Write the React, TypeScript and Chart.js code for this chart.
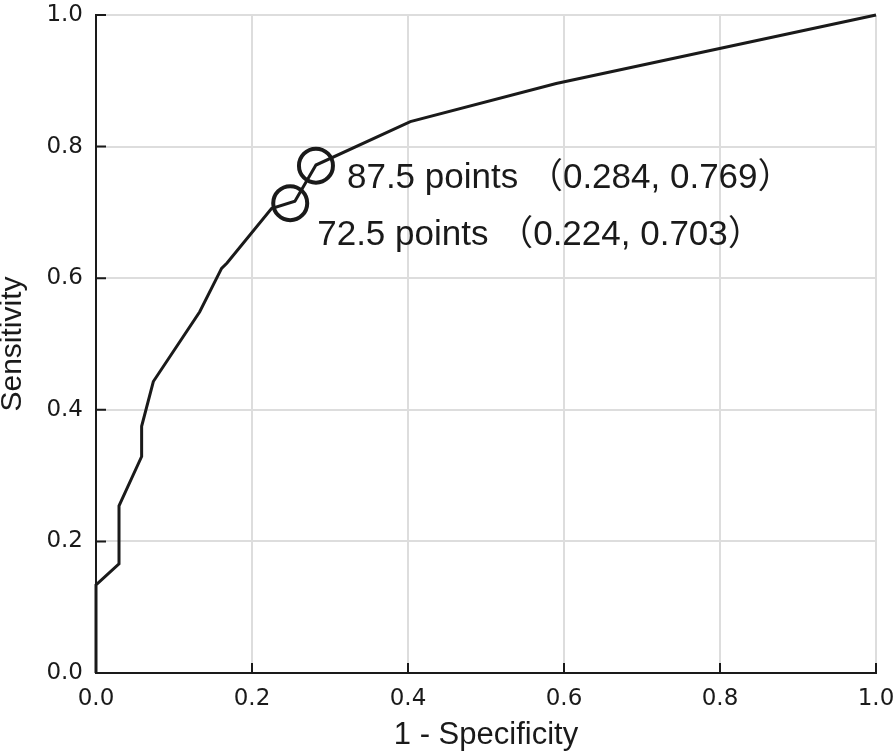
import React, { useEffect, useRef } from 'react';
import { Chart, registerables } from 'chart.js';

Chart.register(...registerables);

// ROC curve (1 - specificity, sensitivity)
const rocX = [0, 0, 0.0295, 0.0295, 0.0585, 0.0585, 0.0735, 0.133, 0.161, 0.168, 0.225, 0.255, 0.282, 0.403, 0.59, 1.0];
const rocY = [0, 0.134, 0.166, 0.254, 0.329, 0.375, 0.443, 0.549, 0.615, 0.623, 0.706, 0.717, 0.772, 0.838, 0.896, 1.0];

// highlighted cut-off points
const markerX = [0.282, 0.249];
const markerY = [0.771, 0.714];
const markerLabels = ['87.5 points （0.284, 0.769）', '72.5 points （0.224, 0.703）'];

const tickValues = [0, 0.2, 0.4, 0.6, 0.8, 1.0];
const xTitle = '1 - Specificity';
const yTitle = 'Sensitivity';

// style constants
const labelOffsets = [
  [31, 22],
  [27, 42],
];
const INK = '#1a1a1a';
const GRID = '#dddddd';

const innerTicksPlugin = {
  id: 'innerTicks',
  afterDatasetsDraw(chart: any) {
    const { ctx, scales } = chart;
    const xs = scales.x;
    const ys = scales.y;
    ctx.save();
    ctx.strokeStyle = INK;
    ctx.lineWidth = 2;
    ctx.beginPath();
    tickValues.forEach((v) => {
      const py = ys.getPixelForValue(v);
      ctx.moveTo(xs.left, py);
      ctx.lineTo(xs.left + 10, py);
      const px = xs.getPixelForValue(v);
      ctx.moveTo(px, ys.bottom);
      ctx.lineTo(px, ys.bottom - 10);
    });
    ctx.stroke();
    ctx.restore();
  },
};

const markerLabelPlugin = {
  id: 'markerLabels',
  afterDatasetsDraw(chart: any) {
    const { ctx, scales } = chart;
    ctx.save();
    ctx.fillStyle = INK;
    ctx.font = '35px "Liberation Sans", Arial, "Noto Sans CJK SC", sans-serif';
    ctx.textAlign = 'left';
    ctx.textBaseline = 'alphabetic';
    markerLabels.forEach((t, i) => {
      const px = scales.x.getPixelForValue(markerX[i]) + labelOffsets[i][0];
      const py = scales.y.getPixelForValue(markerY[i]) + labelOffsets[i][1];
      ctx.fillText(t, px, py);
    });
    ctx.restore();
  },
};

export default function App() {
  const ref = useRef<HTMLCanvasElement | null>(null);

  useEffect(() => {
    if (!ref.current) return;
    const tickFont = { family: '"DejaVu Sans", sans-serif', size: 23 };
    const chart = new Chart(ref.current, {
      type: 'scatter',
      data: {
        datasets: [
          {
            label: 'ROC',
            data: rocX.map((x, i) => ({ x, y: rocY[i] })),
            showLine: true,
            borderColor: INK,
            borderWidth: 3,
            pointRadius: 0,
            fill: false,
            tension: 0,
            clip: 4,
          },
          {
            label: 'Cut-offs',
            data: markerX.map((x, i) => ({ x, y: markerY[i] })),
            showLine: false,
            pointStyle: 'circle',
            pointRadius: 17,
            pointBorderWidth: 4,
            pointBorderColor: INK,
            pointBackgroundColor: 'rgba(0,0,0,0)',
            borderColor: INK,
            backgroundColor: 'rgba(0,0,0,0)',
          },
        ],
      },
      options: {
        animation: false,
        responsive: false,
        devicePixelRatio: 1,
        layout: { autoPadding: false, padding: { top: 15, right: 20, left: 0, bottom: 0 } },
        plugins: {
          legend: { display: false },
          tooltip: { enabled: false },
        },
        scales: {
          x: {
            type: 'linear',
            min: 0,
            max: 1,
            afterBuildTicks: (s: any) => {
              s.ticks = tickValues.map((v) => ({ value: v }));
            },
            afterFit: (s: any) => {
              s.height = 83;
              s.paddingLeft = 0;
              s.paddingRight = 0;
            },
            grid: { color: GRID, lineWidth: 2, drawTicks: false },
            border: { display: true, color: INK, width: 2 },
            ticks: {
              color: INK,
              font: tickFont,
              padding: 12,
              maxRotation: 0,
              callback: (v: any) => Number(v).toFixed(1),
            },
            title: {
              display: true,
              text: xTitle,
              color: INK,
              font: { family: '"Liberation Sans", Arial, sans-serif', size: 31, lineHeight: 1.2 },
              padding: { top: 0, bottom: 2 },
            },
          },
          y: {
            type: 'linear',
            min: 0,
            max: 1,
            afterBuildTicks: (s: any) => {
              s.ticks = tickValues.map((v) => ({ value: v }));
            },
            afterFit: (s: any) => {
              s.width = 96;
              s.paddingTop = 0;
              s.paddingBottom = 0;
            },
            grid: { color: GRID, lineWidth: 2, drawTicks: false },
            border: { display: true, color: INK, width: 2 },
            ticks: {
              color: INK,
              font: tickFont,
              padding: 13,
              callback: (v: any) => Number(v).toFixed(1),
            },
            title: {
              display: true,
              text: yTitle,
              color: INK,
              font: { family: '"Liberation Sans", Arial, sans-serif', size: 30, lineHeight: 0.87 },
              padding: { top: 0, bottom: 0 },
            },
          },
        },
      },
      plugins: [innerTicksPlugin, markerLabelPlugin],
    } as any);
    return () => chart.destroy();
  }, []);

  return (
    <div style={{ position: 'absolute', left: 0, top: 0, width: 896, height: 756, background: '#fff' }}>
      <canvas ref={ref} width={896} height={756} style={{ display: 'block' }} />
    </div>
  );
}
